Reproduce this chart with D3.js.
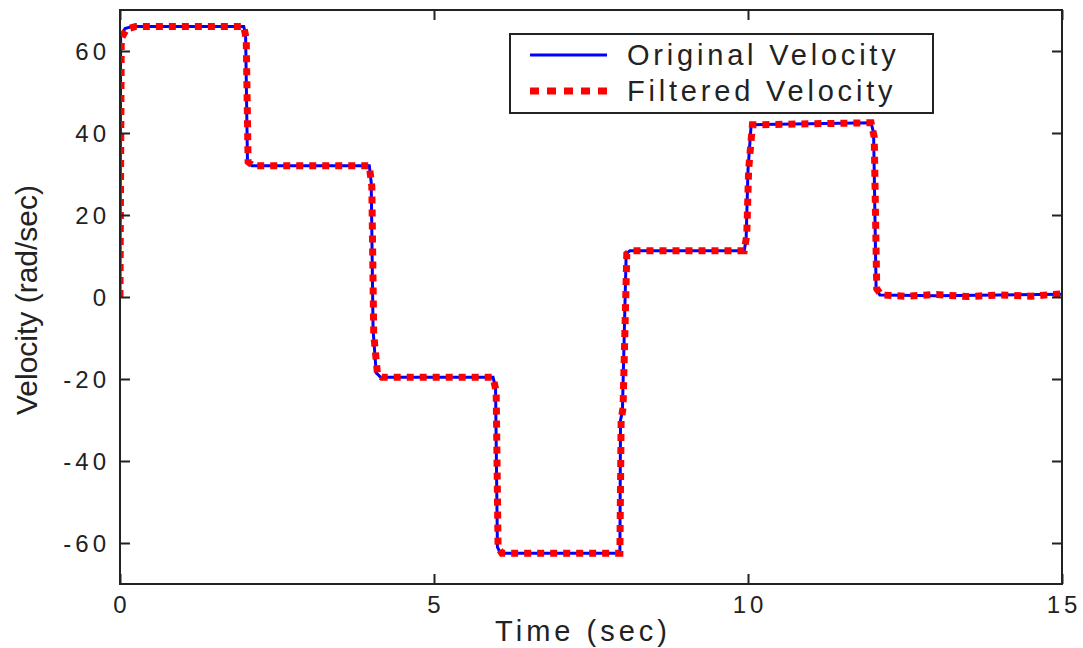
<!DOCTYPE html>
<html>
<head>
<meta charset="utf-8">
<script src="https://cdn.jsdelivr.net/npm/d3@7"></script>
<style>
  body { margin: 0; padding: 0; background: #fff; }
  text { font-family: "Liberation Sans", Arial, sans-serif; fill: #222; }
</style>
</head>
<body>
<script>
// velocity, breakpoints only
const timeOrig = [0, 0.01, 0.08, 0.2, 1.97, 2.0, 2.03, 2.1, 3.97, 4.0, 4.03, 4.08, 4.15, 5.94, 5.98, 6.01, 6.06, 7.96, 7.97, 8.0, 8.06, 8.12, 9.94, 9.97, 10.0, 10.05, 11.96, 12.0, 12.04, 12.1, 13, 14, 15]
const velOrig = [0, 63.5, 65.5, 66, 66, 64, 33, 32, 32, 28, -8, -18.5, -19.6, -19.6, -22, -61, -62.5, -62.5, -30, -28, 10.5, 11.3, 11.3, 14, 31, 42, 42.5, 40, 2, 0.5, 0.3, 0.5, 0.7]

const timeFilt = [0, 0.02, 0.1, 0.25, 1.97, 2.01, 2.04, 2.12, 3.97, 4.01, 4.04, 4.1, 4.17, 5.94, 5.99, 6.02, 6.08, 7.96, 7.98, 8.01, 8.07, 8.14, 9.94, 9.98, 10.01, 10.07, 11.96, 12.01, 12.05, 12.12, 12.5, 13, 13.5, 14, 14.5, 15]
const velFilt = [0, 63, 65.3, 66, 66, 63, 33, 32, 32, 27, -9, -18.8, -19.6, -19.6, -23, -61, -62.5, -62.5, -30, -27, 10.5, 11.3, 11.3, 15, 31, 42, 42.5, 39, 2, 0.5, 0.2, 0.6, 0.1, 0.5, 0.2, 0.8]

const xTicks = [0, 5, 10, 15]
const yTicks = [-60, -40, -20, 0, 20, 40, 60]
const legendNames = ["Original Velocity", "Filtered Velocity"]

const width = 1083
const height = 648
const plotLeft = 120, plotRight = 1062, plotTop = 10, plotBottom = 584

const x = d3.scaleLinear().domain([0, 15]).range([plotLeft, plotRight])
const y = d3.scaleLinear().domain([-70, 70]).range([plotBottom, plotTop])

const svg = d3.select("body").append("svg")
  .attr("width", width)
  .attr("height", height)

svg.append("defs").append("clipPath")
  .attr("id", "plot")
  .append("rect")
  .attr("x", plotLeft).attr("y", plotTop)
  .attr("width", plotRight - plotLeft).attr("height", plotBottom - plotTop)

const line = d3.line()
  .x(d => x(d[0]))
  .y(d => y(d[1]))

const orig = timeOrig.map((t, i) => [t, velOrig[i]])
const filt = timeFilt.map((t, i) => [t, velFilt[i]])

const lines = svg.append("g").attr("clip-path", "url(#plot)")

lines.append("path")
  .datum(orig)
  .attr("d", line)
  .attr("fill", "none")
  .attr("stroke", "#0000ff")
  .attr("stroke-width", 3)

lines.append("path")
  .datum(filt)
  .attr("d", line)
  .attr("fill", "none")
  .attr("stroke", "#ff0000")
  .attr("stroke-width", 7)
  .attr("stroke-dasharray", "7,6")

// axes: ticks inside, on all four sides
const tickLen = 10
const axisColor = "#222"

svg.append("g")
  .attr("transform", `translate(0,${plotBottom})`)
  .call(d3.axisBottom(x).tickValues(xTicks).tickSize(-tickLen).tickFormat(""))
svg.append("g")
  .attr("transform", `translate(0,${plotTop})`)
  .call(d3.axisTop(x).tickValues(xTicks).tickSize(-tickLen).tickFormat(""))
svg.append("g")
  .attr("transform", `translate(${plotLeft},0)`)
  .call(d3.axisLeft(y).tickValues(yTicks).tickSize(-tickLen).tickFormat(""))
svg.append("g")
  .attr("transform", `translate(${plotRight},0)`)
  .call(d3.axisRight(y).tickValues(yTicks).tickSize(-tickLen).tickFormat(""))

svg.selectAll(".domain").remove()
svg.selectAll(".tick line").attr("stroke", axisColor).attr("stroke-width", 2)

svg.append("rect")
  .attr("x", plotLeft).attr("y", plotTop)
  .attr("width", plotRight - plotLeft).attr("height", plotBottom - plotTop)
  .attr("fill", "none")
  .attr("stroke", axisColor)
  .attr("stroke-width", 2)

// tick labels
svg.append("g").selectAll("text")
  .data(xTicks)
  .join("text")
  .attr("x", d => x(d) + 2)
  .attr("y", 613)
  .attr("text-anchor", "middle")
  .attr("font-size", 24)
  .attr("letter-spacing", 4)
  .text(d => d)

svg.append("g").selectAll("text")
  .data(yTicks)
  .join("text")
  .attr("x", 110)
  .attr("y", d => y(d) + 9)
  .attr("text-anchor", "end")
  .attr("font-size", 24)
  .attr("letter-spacing", 4)
  .text(d => d)

// axis titles
svg.append("text")
  .attr("x", 583)
  .attr("y", 641)
  .attr("text-anchor", "middle")
  .attr("font-size", 29)
  .attr("letter-spacing", 4)
  .text("Time (sec)")

svg.append("text")
  .attr("transform", "translate(37,300) rotate(-90)")
  .attr("text-anchor", "middle")
  .attr("font-size", 30)
  .text("Velocity (rad/sec)")

// legend
const legend = svg.append("g")
legend.append("rect")
  .attr("x", 510).attr("y", 34)
  .attr("width", 423).attr("height", 79)
  .attr("fill", "#fff")
  .attr("stroke", axisColor)
  .attr("stroke-width", 2)

const legendStyles = [
  { color: "#0000ff", w: 3, dash: null },
  { color: "#ff0000", w: 7, dash: "9,8" }
]

legend.selectAll("line")
  .data(legendNames)
  .join("line")
  .attr("x1", 530).attr("x2", 607)
  .attr("y1", (d, i) => 55 + i * 36)
  .attr("y2", (d, i) => 55 + i * 36)
  .attr("stroke", (d, i) => legendStyles[i].color)
  .attr("stroke-width", (d, i) => legendStyles[i].w)
  .attr("stroke-dasharray", (d, i) => legendStyles[i].dash)

legend.selectAll("text")
  .data(legendNames)
  .join("text")
  .attr("x", 627)
  .attr("y", (d, i) => 65 + i * 36)
  .attr("font-size", 29)
  .attr("letter-spacing", 3.8)
  .text(d => d)
</script>
</body>
</html>
